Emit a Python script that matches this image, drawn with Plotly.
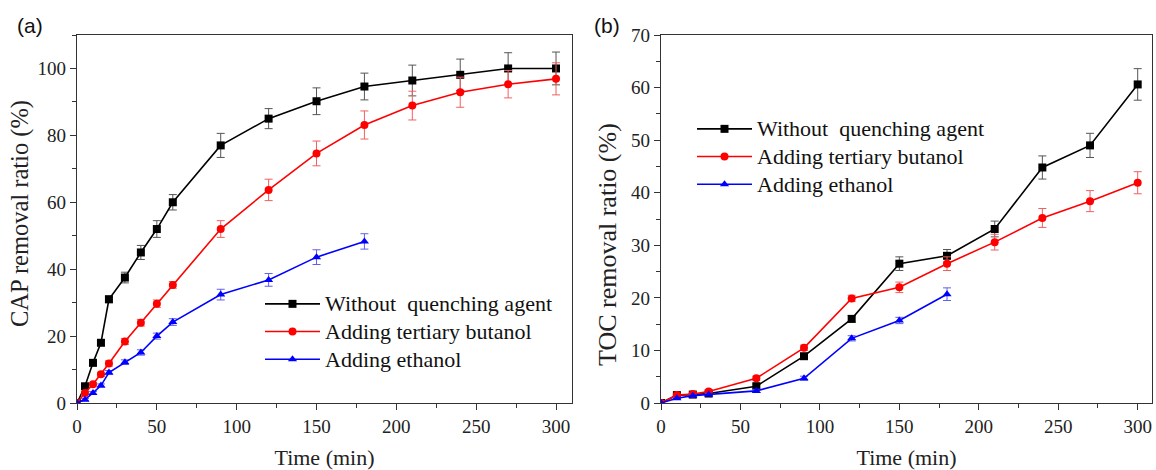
import plotly.graph_objects as go

# ---------- Data: panel (a) CAP removal ----------
t_a = [0, 5, 10, 15, 20, 30, 40, 50, 60, 90, 120, 150, 180, 210, 240, 270, 300]
cap_none = [0, 5, 12, 18, 31, 37.5, 45, 52, 60, 77, 85, 90.2, 94.6, 96.4, 98.1, 100, 100]
cap_none_err = [0, 0.5, 0.6, 0.8, 1.0, 1.6, 2.1, 2.5, 2.3, 3.6, 3.0, 4.0, 4.0, 4.6, 4.7, 4.7, 4.9]
cap_tba = [0, 3, 5.6, 8.6, 11.8, 18.4, 24, 29.7, 35.3, 52, 63.7, 74.6, 83.1, 88.9, 92.9, 95.3, 96.9]
cap_tba_err = [0, 0.4, 0.5, 0.6, 0.8, 0.9, 1.0, 1.1, 1.0, 2.5, 3.2, 3.7, 4.2, 4.3, 4.5, 4.1, 4.8]
t_a_eth = [0, 5, 10, 15, 20, 30, 40, 50, 60, 90, 120, 150, 180]
cap_eth = [0, 1, 3, 5.2, 9.1, 12.2, 15.1, 20, 24.2, 32.4, 36.8, 43.6, 48.3]
cap_eth_err = [0, 0.3, 0.4, 0.5, 0.6, 0.7, 0.8, 0.9, 1.0, 1.6, 1.9, 2.2, 2.3]

# ---------- Data: panel (b) TOC removal ----------
t_b = [0, 10, 20, 30, 60, 90, 120, 150, 180, 210, 240, 270, 300]
toc_none = [0, 1.5, 1.6, 1.8, 3.2, 8.9, 16.0, 26.5, 28.0, 33.1, 44.8, 49.0, 60.6]
toc_none_err = [0, 0.2, 0.2, 0.3, 0.4, 0.5, 0.6, 1.3, 1.2, 1.5, 2.2, 2.3, 3.0]
toc_tba = [0, 1.5, 1.7, 2.2, 4.7, 10.5, 19.9, 22.0, 26.5, 30.6, 35.2, 38.4, 41.9]
toc_tba_err = [0, 0.2, 0.2, 0.3, 0.4, 0.5, 0.6, 1.0, 1.3, 1.5, 1.8, 2.0, 2.1]
t_b_eth = [0, 10, 20, 30, 60, 90, 120, 150, 180]
toc_eth = [0, 0.9, 1.4, 1.6, 2.3, 4.7, 12.3, 15.7, 20.7]
toc_eth_err = [0, 0.1, 0.1, 0.2, 0.3, 0.4, 0.5, 0.6, 1.2]

names = ["Without  quenching agent", "Adding tertiary butanol", "Adding ethanol"]
colors = ["#000000", "#ff0000", "#0000ff"]
err_colors = ["#555555", "#f06060", "#6060f0"]
symbols = ["square", "circle", "triangle-up"]

FONT = "Liberation Serif"

fig = go.Figure()

def add_series(x, y, err, i, xa, ya, legend):
    fig.add_trace(go.Scatter(
        x=x, y=y, name='<span style="font-size:22px">' + names[i] + '</span>',
        mode="lines+markers",
        line=dict(color=colors[i], width=1.6),
        marker=dict(symbol=symbols[i], size=8, color=colors[i]),
        error_y=dict(type="data", array=err, visible=True,
                     color=err_colors[i], thickness=1, width=4),
        xaxis=xa, yaxis=ya, legend=legend,
    ))

add_series(t_a, cap_none, cap_none_err, 0, "x", "y", "legend")
add_series(t_a, cap_tba, cap_tba_err, 1, "x", "y", "legend")
add_series(t_a_eth, cap_eth, cap_eth_err, 2, "x", "y", "legend")
add_series(t_b, toc_none, toc_none_err, 0, "x2", "y2", "legend2")
add_series(t_b, toc_tba, toc_tba_err, 1, "x2", "y2", "legend2")
add_series(t_b_eth, toc_eth, toc_eth_err, 2, "x2", "y2", "legend2")

# body margin is removed by post_script, so paper pixels == page pixels
W, H = 1156, 470
def px(x):
    return x / W
def py(y):
    return 1 - y / H

axis_common = dict(
    showline=True, linecolor="#333333", linewidth=1.2, mirror=True,
    ticks="outside", ticklen=6, tickwidth=1.2, tickcolor="#333333",
    showgrid=False, zeroline=False, automargin=False,
    tickfont=dict(family=FONT, size=19, color="#222222"),
)
minor_common = dict(ticks="outside", ticklen=4, tickwidth=1.2, tickcolor="#333333")
xtitle_font = dict(family=FONT, size=22, color="#222222")
legend_font = dict(family=FONT, size=19, color="#111111")

fig.update_layout(
    width=W, height=H,
    margin=dict(l=0, r=0, t=0, b=0),
    plot_bgcolor="white", paper_bgcolor="white",
    showlegend=True,
    xaxis=dict(domain=[px(77), px(572)], range=[0, 310], dtick=50, tick0=0,
               minor=dict(dtick=25, **minor_common),
               title=dict(text="Time (min)", font=xtitle_font, standoff=14),
               anchor="y", **axis_common),
    yaxis=dict(domain=[py(403), py(35)], range=[0, 110], dtick=20, tick0=0,
               minor=dict(dtick=10, **minor_common),
               anchor="x", **axis_common),
    xaxis2=dict(domain=[px(661), px(1152)], range=[0, 309], dtick=50, tick0=0,
                minor=dict(dtick=25, **minor_common),
                title=dict(text="Time (min)", font=xtitle_font, standoff=14),
                anchor="y2", **axis_common),
    yaxis2=dict(domain=[py(403), py(35)], range=[0, 70], dtick=10, tick0=0,
                minor=dict(dtick=5, **minor_common),
                anchor="x2", **axis_common),
    legend=dict(x=px(260), y=py(285), xanchor="left", yanchor="top",
                font=legend_font, bgcolor="rgba(0,0,0,0)",
                tracegroupgap=0, itemwidth=55, traceorder="normal"),
    legend2=dict(x=px(692), y=py(110), xanchor="left", yanchor="top",
                 font=legend_font, bgcolor="rgba(0,0,0,0)",
                 tracegroupgap=0, itemwidth=55, traceorder="normal"),
    annotations=[
        dict(text="(a)", x=px(15), y=py(12), xref="paper", yref="paper",
             xanchor="left", yanchor="top", showarrow=False,
             font=dict(family="Liberation Sans", size=21, color="#111111")),
        dict(text="(b)", x=px(592), y=py(12), xref="paper", yref="paper",
             xanchor="left", yanchor="top", showarrow=False,
             font=dict(family="Liberation Sans", size=21, color="#111111")),
        dict(text="CAP removal ratio (%)", x=px(20), y=py(214), xref="paper", yref="paper",
             xanchor="center", yanchor="middle", textangle=-90, showarrow=False,
             font=dict(family=FONT, size=24.5, color="#222222")),
        dict(text="TOC removal ratio (%)", x=px(607), y=py(245), xref="paper", yref="paper",
             xanchor="center", yanchor="middle", textangle=-90, showarrow=False,
             font=dict(family=FONT, size=26, color="#222222")),
    ],
)

fig.write_html(
    "out.html",
    config={"displayModeBar": False},
    post_script="document.body.style.margin='0';"
                "document.documentElement.style.overflow='hidden';"
                "document.body.style.overflow='hidden';",
)
